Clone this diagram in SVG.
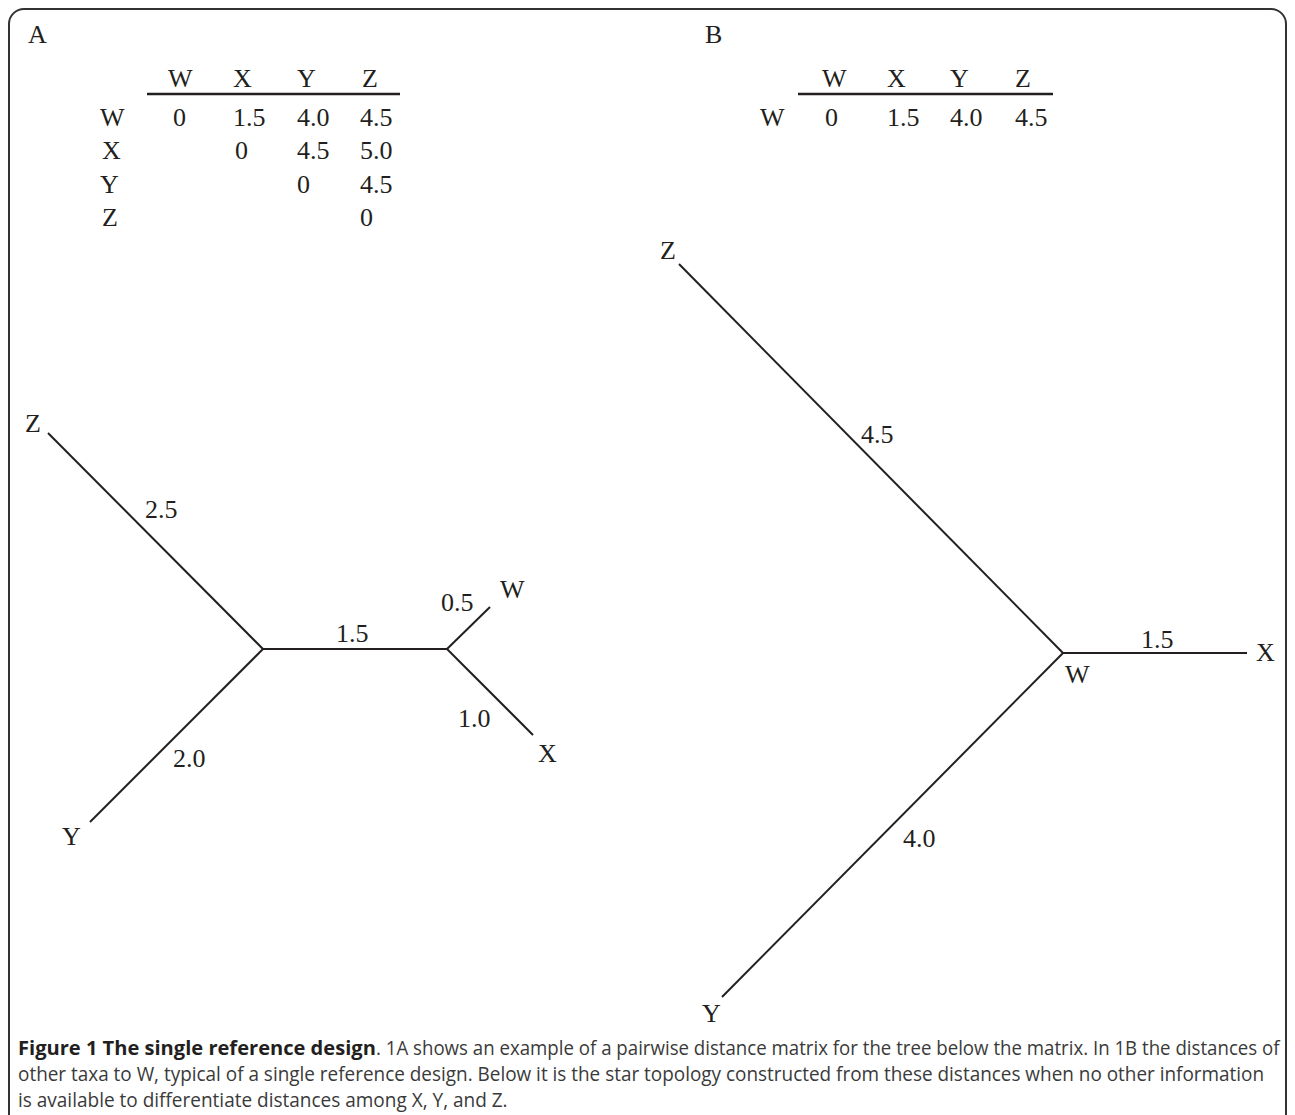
<svg xmlns="http://www.w3.org/2000/svg" width="1295" height="1115" viewBox="0 0 1295 1115">
<style>
.t{font-family:"Liberation Serif","Times New Roman",serif;font-size:26px;fill:#231f20}
.e{stroke:#231f20;stroke-width:2;fill:none;stroke-linecap:butt}
.rule{stroke:#231f20;stroke-width:2.5}
.cap{font-family:"Open Sans","Liberation Sans",sans-serif;font-size:20px;fill:#3a3a3a}
.capb{font-family:"Open Sans","Liberation Sans",sans-serif;font-size:20px;font-weight:bold;fill:#231f20}
</style>
<rect x="9" y="9" width="1277" height="1140" rx="15" ry="15" fill="#ffffff" stroke="#333333" stroke-width="2"/>
<g id="panel-A-table">
<text class="t" x="28" y="43">A</text>
<text class="t" x="168" y="87">W</text><text class="t" x="233" y="87">X</text><text class="t" x="297" y="87">Y</text><text class="t" x="362" y="87">Z</text>
<line class="rule" x1="147" y1="94" x2="400" y2="94"/>
<text class="t" x="100" y="126">W</text><text class="t" x="173" y="126">0</text><text class="t" x="233" y="126">1.5</text><text class="t" x="297" y="126">4.0</text><text class="t" x="360" y="126">4.5</text>
<text class="t" x="102" y="159">X</text><text class="t" x="235" y="159">0</text><text class="t" x="297" y="159">4.5</text><text class="t" x="360" y="159">5.0</text>
<text class="t" x="100" y="193">Y</text><text class="t" x="297" y="193">0</text><text class="t" x="360" y="193">4.5</text>
<text class="t" x="102" y="226">Z</text><text class="t" x="360" y="226">0</text>
</g>
<g id="panel-B-table">
<text class="t" x="705" y="43">B</text>
<text class="t" x="822" y="87">W</text><text class="t" x="887" y="87">X</text><text class="t" x="950" y="87">Y</text><text class="t" x="1015" y="87">Z</text>
<line class="rule" x1="798" y1="94" x2="1053" y2="94"/>
<text class="t" x="760" y="126">W</text><text class="t" x="825" y="126">0</text><text class="t" x="887" y="126">1.5</text><text class="t" x="950" y="126">4.0</text><text class="t" x="1015" y="126">4.5</text>
</g>
<g id="connectors">
<line class="e" x1="48" y1="433" x2="263" y2="649"/>
<line class="e" x1="263" y1="649" x2="447" y2="649"/>
<line class="e" x1="447" y1="649" x2="490" y2="607"/>
<line class="e" x1="447" y1="649" x2="533" y2="735"/>
<line class="e" x1="263" y1="649" x2="90" y2="822"/>
<line class="e" x1="679" y1="264" x2="1063" y2="653"/>
<line class="e" x1="1063" y1="653" x2="1247" y2="653"/>
<line class="e" x1="1063" y1="653" x2="722" y2="997"/>
</g>
<g id="tree-A-labels">
<g id="A-Z"><text class="t" x="25" y="432">Z</text></g>
<g id="A-W"><text class="t" x="500" y="598">W</text></g>
<g id="A-X"><text class="t" x="538" y="762">X</text></g>
<g id="A-Y"><text class="t" x="62" y="845">Y</text></g>
<text class="t" x="145" y="518">2.5</text>
<text class="t" x="336" y="642">1.5</text>
<text class="t" x="441" y="611">0.5</text>
<text class="t" x="458" y="727">1.0</text>
<text class="t" x="173" y="767">2.0</text>
</g>
<g id="tree-B-labels">
<g id="B-Z"><text class="t" x="660" y="259">Z</text></g>
<g id="B-X"><text class="t" x="1256" y="661">X</text></g>
<g id="B-W"><text class="t" x="1065" y="683">W</text></g>
<g id="B-Y"><text class="t" x="702" y="1022">Y</text></g>
<text class="t" x="861" y="443">4.5</text>
<text class="t" x="1141" y="648">1.5</text>
<text class="t" x="903" y="847">4.0</text>
</g>
<g id="caption">
<g transform="translate(18,1055) scale(0.85,1)"><text class="capb" x="0" y="0" textLength="421" lengthAdjust="spacingAndGlyphs">Figure 1 The single reference design</text></g>
<g transform="translate(376,1055) scale(0.85,1)"><text class="cap" x="0" y="0" textLength="1063" lengthAdjust="spacingAndGlyphs">. 1A shows an example of a pairwise distance matrix for the tree below the matrix. In 1B the distances of</text></g>
<g transform="translate(18,1081) scale(0.85,1)"><text class="cap" x="0" y="0" textLength="1466" lengthAdjust="spacingAndGlyphs">other taxa to W, typical of a single reference design. Below it is the star topology constructed from these distances when no other information</text></g>
<g transform="translate(18,1107) scale(0.85,1)"><text class="cap" x="0" y="0" textLength="576" lengthAdjust="spacingAndGlyphs">is available to differentiate distances among X, Y, and Z.</text></g>
</g>
</svg>
